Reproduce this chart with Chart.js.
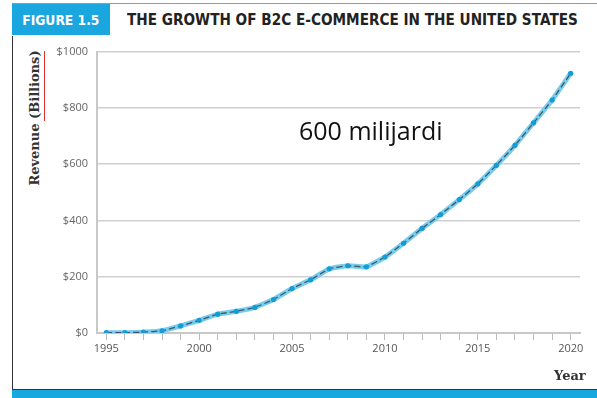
<!DOCTYPE html>
<html>
<head>
<meta charset="utf-8">
<script src="https://cdn.jsdelivr.net/npm/chart.js@4.4.1/dist/chart.umd.min.js"></script>
<style>
  body { margin: 0; width: 597px; height: 398px; background: #fff; position: relative; overflow: hidden; }
  .topline { position: absolute; left: 12px; top: 3px; width: 585px; height: 1px; background: #999; }
  .figbox { position: absolute; left: 12px; top: 4px; width: 98px; height: 31px; background: #1aa6de;
    color: #fff; font: bold 14px/32px "DejaVu Sans"; text-align: center; }
  .figbox span, .figtitle span { display: inline-block; transform: scaleX(0.88); transform-origin: center; }
  .figtitle { position: absolute; left: 127px; top: 4px; width: 470px; height: 31px;
    font: bold 15.5px/32px "DejaVu Sans"; color: #222; white-space: nowrap; }
  .figtitle span { transform-origin: left center; }
  .leftline { position: absolute; left: 12px; top: 36px; width: 1px; height: 354px; background: #333; }
  .bottomband { position: absolute; left: 12px; top: 389px; width: 585px; height: 9px; background: #18a8e0; border-top: 1px solid #333; }
  .ytitle { position: absolute; left: 34px; top: 118px; transform: translate(-50%, -50%) rotate(-90deg);
    font: bold 13px "DejaVu Serif"; color: #333; white-space: nowrap; }
  .redline { position: absolute; left: 44px; top: 51px; width: 1px; height: 70px; background: #e03030; }
  .xtitle { position: absolute; left: 554px; top: 368px; font: bold 13px "DejaVu Serif"; color: #333; }
  .note { position: absolute; left: 299px; top: 113px; font: 25px "Open Sans"; color: #111; }
  #wrap { position: absolute; left: 12px; top: 36px; width: 580px; height: 352px; }
</style>
</head>
<body>
<div class="topline"></div>
<div class="figbox"><span>FIGURE 1.5</span></div>
<div class="figtitle"><span>THE GROWTH OF B2C E-COMMERCE IN THE UNITED STATES</span></div>
<div class="leftline"></div>
<div class="ytitle">Revenue (Billions)</div>
<div class="redline"></div>
<div id="wrap"><canvas id="myChart"></canvas></div>
<div class="note">600 milijardi</div>
<div class="xtitle">Year</div>
<div class="bottomband"></div>
<script>
const years = ['1995','1996','1997','1998','1999','2000','2001','2002','2003','2004','2005','2006','2007',
  '2008','2009','2010','2011','2012','2013','2014','2015','2016','2017','2018','2019','2020'];
const revenue = [1, 1, 3, 8, 25, 45, 67, 77, 91, 119, 158, 189, 228,
  239, 235, 270, 319, 372, 421, 474, 530, 596, 667, 747, 828, 923];
const yTicks = [0, 200, 400, 600, 800, 1000];

const ctx = document.getElementById('myChart').getContext('2d');
new Chart(ctx, {
  type: 'line',
  data: {
    labels: years,
    datasets: [{
      // light blue band under the dashed line
      data: revenue,
      borderColor: '#74cdef',
      borderWidth: 5,
      pointRadius: 0,
      tension: 0.1,
      order: 2
    }, {
      data: revenue,
      borderColor: '#46545e',
      borderWidth: 1.3,
      borderDash: [6, 3],
      pointRadius: 2.6,
      pointBackgroundColor: '#139dd6',
      pointBorderWidth: 0,
      tension: 0.1,
      order: 1
    }]
  },
  options: {
    responsive: true,
    maintainAspectRatio: false,
    animation: false,
    layout: { padding: { top: 12, right: 12, left: 0, bottom: 0 } },
    plugins: { legend: { display: false }, tooltip: { enabled: false } },
    scales: {
      x: {
        type: 'category',
        offset: true,
        grid: { drawOnChartArea: false, color: '#bbb', tickLength: 7, offset: false },
        border: { color: '#c8c8c8', width: 2 },
        ticks: {
          autoSkip: false, maxRotation: 0, color: '#555', padding: 2,
          font: { family: 'Open Sans', size: 11 },
          callback: function(v, i) { const y = years[i]; return (+y) % 5 === 0 ? y : ''; }
        },
        afterFit: function(s) { s.height = 55; }
      },
      y: {
        min: 0, max: 1000,
        afterBuildTicks: function(s) { s.ticks = yTicks.map(v => ({ value: v })); },
        grid: { color: '#d0d0d0', lineWidth: 1.5, drawTicks: false },
        border: { color: '#c8c8c8', width: 2 },
        ticks: {
          color: '#666', padding: 9,
          font: { family: 'Open Sans', size: 11 },
          callback: v => '$' + v
        },
        afterFit: function(s) { s.width = 85; }
      }
    }
  }
});
</script>
</body>
</html>
